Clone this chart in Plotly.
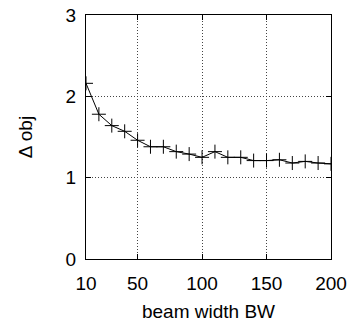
import plotly.graph_objects as go

beam_width = [10, 20, 30, 40, 50, 60, 70, 80, 90, 100, 110, 120, 130, 140, 150, 160, 170, 180, 190, 200]
delta_obj = [2.16, 1.78, 1.64, 1.57, 1.46, 1.38, 1.38, 1.32, 1.29, 1.25, 1.32, 1.25, 1.25, 1.21, 1.21, 1.22, 1.18, 1.20, 1.18, 1.17]
x_ticks = [10, 50, 100, 150, 200]
y_ticks = [0, 1, 2, 3]

FONT = "Liberation Sans, Arial"
FS = 19

fig = go.Figure()
fig.add_trace(go.Scatter(
    x=beam_width, y=delta_obj, mode="lines+markers",
    line=dict(color="black", width=1),
    marker=dict(symbol="cross-thin", size=10, line=dict(color="black", width=1), color="black"),
    showlegend=False,
))

axis_common = dict(
    showline=True, linecolor="black", linewidth=1, mirror="ticks",
    ticks="inside", ticklen=5, tickcolor="black", tickwidth=1,
    showgrid=True, gridcolor="#444444", gridwidth=1, griddash="1px,2px",
    zeroline=False, automargin=False,
    tickfont=dict(family=FONT, size=FS, color="black"),
)

fig.update_xaxes(
    range=[10, 200], tickvals=x_ticks, ticktext=[str(v) for v in x_ticks],
    ticklabelstandoff=7,
    title=dict(text="beam width BW", font=dict(family=FONT, size=FS, color="black"), standoff=11),
    **axis_common,
)
fig.update_yaxes(
    range=[0, 3], tickvals=y_ticks, ticktext=[str(v) for v in y_ticks],
    ticklabelstandoff=5,
    title=dict(text="Δ obj", font=dict(family=FONT, size=FS, color="black"), standoff=27),
    **axis_common,
)

fig.update_layout(
    width=359, height=324,
    margin=dict(l=86, r=28, t=15, b=65),
    plot_bgcolor="white", paper_bgcolor="white",
)

fig.write_html("out.html")
